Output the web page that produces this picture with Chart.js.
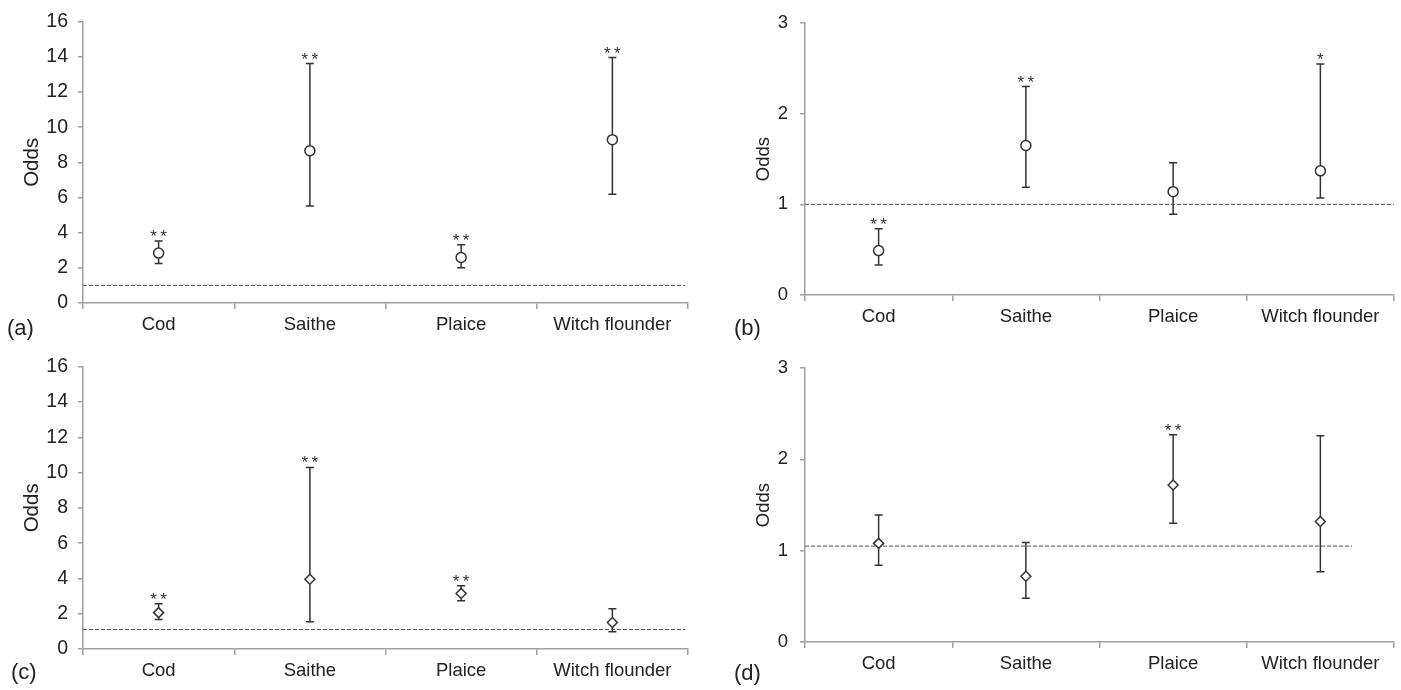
<!DOCTYPE html>
<html>
<head>
    <title>Odds by species</title>
    <script src="https://cdn.jsdelivr.net/npm/chart.js"></script>
    <style>
        body { margin: 0; background: #fff; }
        .panel { position: absolute; }
        .tag { position: absolute; font: 22px "Liberation Sans", Arial, sans-serif; line-height: 22px; color: #222; }
    </style>
    <script>
        const categories = ['Cod', 'Saithe', 'Plaice', 'Witch flounder'];

        // (a)
        const oddsA = [2.84, 8.66, 2.59, 9.29];
        const lowA = [2.25, 5.52, 2.01, 6.19];
        const highA = [3.53, 13.62, 3.31, 13.96];
        const starsA = ['**', '**', '**', '**'];

        // (b)
        const oddsB = [0.49, 1.65, 1.14, 1.37];
        const lowB = [0.33, 1.19, 0.89, 1.07];
        const highB = [0.73, 2.30, 1.46, 2.55];
        const starsB = ['**', '**', '', '*'];

        // (c)
        const oddsC = [2.06, 3.95, 3.15, 1.50];
        const lowC = [1.67, 1.54, 2.73, 0.98];
        const highC = [2.56, 10.29, 3.58, 2.28];
        const starsC = ['**', '**', '**', ''];

        // (d)
        const oddsD = [1.08, 0.72, 1.72, 1.32];
        const lowD = [0.84, 0.48, 1.30, 0.77];
        const highD = [1.39, 1.09, 2.27, 2.26];
        const starsD = ['', '', '**', ''];

        // reference line: value, end (category index units)
        const refA = [1.0, 3.48];
        const refB = [1.0, 3.5];
        const refC = [1.1, 3.48];
        const refD = [1.05, 3.215];

        const FONT = '"Liberation Sans", Arial, sans-serif';
        const AXIS = '#a0a0a0';

        const errorBars = {
            id: 'errorBars',
            beforeDatasetsDraw(chart, args, opts) {
                const x = chart.scales.x, y = chart.scales.y;
                const ctx = chart.ctx;
                ctx.save();
                // dashed reference line
                ctx.strokeStyle = '#555';
                ctx.lineWidth = 1;
                ctx.setLineDash([4, 2]);
                const ry = y.getPixelForValue(opts.ref[0]);
                ctx.beginPath();
                ctx.moveTo(chart.chartArea.left, ry);
                ctx.lineTo(x.getPixelForValue(opts.ref[1]), ry);
                ctx.stroke();
                ctx.setLineDash([]);
                // whiskers
                ctx.strokeStyle = '#333';
                ctx.lineWidth = 1.5;
                opts.low.forEach((lo, i) => {
                    const px = x.getPixelForValue(i);
                    const y1 = y.getPixelForValue(lo);
                    const y2 = y.getPixelForValue(opts.high[i]);
                    ctx.beginPath();
                    ctx.moveTo(px, y1); ctx.lineTo(px, y2);
                    ctx.moveTo(px - 4, y1); ctx.lineTo(px + 4, y1);
                    ctx.moveTo(px - 4, y2); ctx.lineTo(px + 4, y2);
                    ctx.stroke();
                    if (opts.stars[i]) {
                        ctx.fillStyle = '#333';
                        ctx.font = '17px ' + FONT;
                        ctx.textAlign = 'center';
                        ctx.textBaseline = 'alphabetic';
                        ctx.fillText(opts.stars[i].split('').join('\u2009'), px, y2 + 1);
                    }
                });
                ctx.restore();
            }
        };

        function makePanel(id, p) {
            const box = p.box, area = p.area;
            const el = document.getElementById(id);
            el.style.left = box.left + 'px';
            el.style.top = box.top + 'px';
            el.width = box.width;
            el.height = box.height;
            return new Chart(el.getContext('2d'), {
                type: 'line',
                data: {
                    labels: categories,
                    datasets: [{
                        data: p.odds,
                        showLine: false,
                        pointStyle: p.marker,
                        pointRadius: 5,
                        pointBackgroundColor: '#fff',
                        pointBorderColor: '#333',
                        pointBorderWidth: 1.5
                    }]
                },
                plugins: [errorBars],
                options: {
                    responsive: false,
                    animation: false,
                    layout: { padding: { top: area.top, right: box.width - area.right, left: 0, bottom: 0 } },
                    plugins: {
                        legend: { display: false },
                        tooltip: { enabled: false },
                        errorBars: { low: p.low, high: p.high, stars: p.stars, ref: p.ref }
                    },
                    scales: {
                        x: {
                            type: 'category',
                            offset: true,
                            grid: { offset: true, drawOnChartArea: false, color: AXIS, lineWidth: 1.5, tickLength: 6 },
                            border: { color: AXIS, width: 1.5 },
                            ticks: { color: '#222', font: { family: FONT, size: 18.5 }, padding: 5, maxRotation: 0 },
                            afterFit(s) { s.height = box.height - area.bottom; }
                        },
                        y: {
                            min: 0, max: p.max,
                            grid: { drawOnChartArea: false, color: AXIS, lineWidth: 1.5, tickLength: 5 },
                            border: { color: AXIS, width: 1.5 },
                            ticks: { stepSize: p.step, color: '#222', font: { family: FONT, size: p.tickSize }, padding: p.tickPad },
                            title: { display: true, text: 'Odds', color: '#222', font: { family: FONT, size: p.titleSize }, padding: { top: p.titlePad, bottom: 0 } },
                            afterFit(s) { s.width = area.left; }
                        }
                    }
                }
            });
        }

        document.addEventListener('DOMContentLoaded', function() {
            makePanel('chartA', {
                box: { left: 0, top: 0, width: 700, height: 345 },
                area: { left: 83, top: 15, right: 688, bottom: 303 },
                odds: oddsA, low: lowA, high: highA, stars: starsA, ref: refA,
                max: 16, step: 2, marker: 'circle', tickSize: 19.5, tickPad: 10, titleSize: 20.5, titlePad: 20
            });
            makePanel('chartB', {
                box: { left: 700, top: 0, width: 701, height: 345 },
                area: { left: 105, top: 17, right: 694, bottom: 295 },
                odds: oddsB, low: lowB, high: highB, stars: starsB, ref: refB,
                max: 3, step: 1, marker: 'circle', tickSize: 18.5, tickPad: 12, titleSize: 18.5, titlePad: 53
            });
            makePanel('chartC', {
                box: { left: 0, top: 345, width: 700, height: 345 },
                area: { left: 83, top: 17, right: 688, bottom: 304 },
                odds: oddsC, low: lowC, high: highC, stars: starsC, ref: refC,
                max: 16, step: 2, marker: 'rectRot', tickSize: 19.5, tickPad: 10, titleSize: 20.5, titlePad: 20
            });
            makePanel('chartD', {
                box: { left: 700, top: 345, width: 701, height: 345 },
                area: { left: 105, top: 19, right: 694, bottom: 297 },
                odds: oddsD, low: lowD, high: highD, stars: starsD, ref: refD,
                max: 3, step: 1, marker: 'rectRot', tickSize: 18.5, tickPad: 12, titleSize: 18.5, titlePad: 53
            });
        });
    </script>
</head>
<body>
<canvas id="chartA" class="panel"></canvas>
<canvas id="chartB" class="panel"></canvas>
<canvas id="chartC" class="panel"></canvas>
<canvas id="chartD" class="panel"></canvas>
<div class="tag" style="left:7px; top:317px;">(a)</div>
<div class="tag" style="left:734px; top:317px;">(b)</div>
<div class="tag" style="left:11px; top:661px;">(c)</div>
<div class="tag" style="left:734px; top:662px;">(d)</div>
</body>
</html>
